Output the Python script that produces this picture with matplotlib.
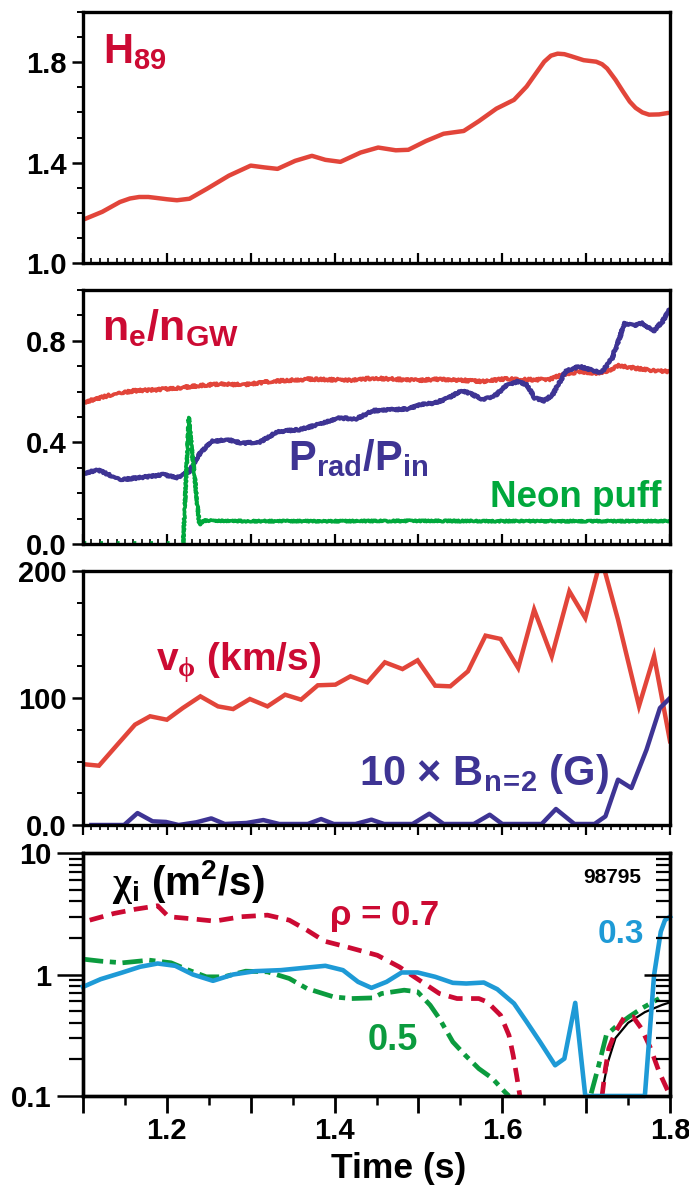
import numpy as np
import matplotlib
matplotlib.use("Agg")
import matplotlib.pyplot as plt
from matplotlib import font_manager
from matplotlib.ticker import MultipleLocator, FixedLocator, FixedFormatter, LogLocator, NullFormatter

# ---------------- data ----------------
t_h89 = [1.102, 1.123, 1.144, 1.156, 1.167, 1.178, 1.188, 1.200, 1.212, 1.227, 1.248, 1.274, 1.300,
         1.316, 1.332, 1.353, 1.373, 1.389, 1.407, 1.431, 1.452, 1.473, 1.488, 1.509, 1.530,
         1.554, 1.572, 1.593, 1.614, 1.629, 1.640, 1.650, 1.658, 1.666, 1.674, 1.682, 1.697,
         1.712, 1.719, 1.725, 1.735, 1.744, 1.752, 1.759, 1.767, 1.775, 1.787, 1.798]
h89 = [1.175, 1.204, 1.243, 1.257, 1.263, 1.263, 1.259, 1.254, 1.250, 1.256, 1.296, 1.348, 1.388,
       1.381, 1.375, 1.407, 1.427, 1.411, 1.403, 1.440, 1.460, 1.449, 1.451, 1.486, 1.515,
       1.526, 1.565, 1.615, 1.650, 1.703, 1.755, 1.802, 1.826, 1.834, 1.832, 1.824, 1.808,
       1.802, 1.792, 1.775, 1.730, 1.683, 1.643, 1.618, 1.600, 1.591, 1.592, 1.598]

t_ne = [1.102, 1.134, 1.160, 1.186, 1.212, 1.238, 1.264, 1.290, 1.316, 1.342, 1.368, 1.394,
        1.420, 1.446, 1.472, 1.499, 1.525, 1.551, 1.577, 1.603, 1.629, 1.655, 1.671, 1.692,
        1.712, 1.723, 1.739, 1.759, 1.780, 1.800]
ne_ngw = [0.559, 0.588, 0.603, 0.607, 0.614, 0.623, 0.630, 0.627, 0.637, 0.644, 0.649, 0.647,
          0.645, 0.653, 0.649, 0.644, 0.649, 0.645, 0.640, 0.650, 0.647, 0.647, 0.666, 0.679,
          0.673, 0.677, 0.703, 0.692, 0.682, 0.679]

t_prad = [1.102, 1.118, 1.144, 1.170, 1.196, 1.212, 1.227, 1.238, 1.253, 1.274, 1.290, 1.311,
          1.332, 1.358, 1.379, 1.405, 1.426, 1.446, 1.472, 1.488, 1.504, 1.519, 1.535, 1.551,
          1.561, 1.577, 1.593, 1.603, 1.618, 1.629, 1.639, 1.650, 1.660, 1.676, 1.692, 1.705,
          1.718, 1.731, 1.746, 1.757, 1.767, 1.780, 1.791, 1.800]
prad_pin = [0.279, 0.292, 0.253, 0.262, 0.273, 0.262, 0.286, 0.351, 0.404, 0.410, 0.397, 0.401,
            0.443, 0.450, 0.469, 0.496, 0.493, 0.525, 0.529, 0.532, 0.551, 0.555, 0.574, 0.603,
            0.594, 0.568, 0.588, 0.620, 0.640, 0.627, 0.574, 0.564, 0.588, 0.682, 0.699, 0.686,
            0.673, 0.732, 0.870, 0.860, 0.870, 0.837, 0.876, 0.926]

t_neon = [1.2194, 1.2262, 1.2387, 1.244, 1.30, 1.40, 1.50, 1.60, 1.70, 1.80]
neon = [0.0, 0.498, 0.076, 0.092, 0.090, 0.090, 0.091, 0.090, 0.090, 0.090]
t_neon_pre = [1.10, 1.2194]
neon_pre = [0.006, 0.006]

t_vphi = [1.102, 1.119, 1.141, 1.162, 1.180, 1.200, 1.219, 1.240, 1.261, 1.279, 1.299, 1.320,
          1.341, 1.360, 1.380, 1.401, 1.419, 1.439, 1.460, 1.481, 1.499, 1.520, 1.538, 1.559,
          1.580, 1.598, 1.619, 1.638, 1.659, 1.680, 1.699, 1.714, 1.722, 1.738, 1.763, 1.781, 1.800]
vphi = [47.8, 46.7, 63.3, 79.0, 85.6, 82.9, 92.1, 101.3, 93.4, 91.3, 99.2, 93.4,
        102.6, 98.7, 110.0, 110.5, 117.1, 112.3, 128.1, 122.8, 129.7, 109.7, 109.2, 121.0,
        149.1, 146.5, 123.6, 169.6, 132.8, 184.0, 163.0, 200.5, 200.5, 161.7, 93.6, 133.0, 66.0]

t_bn2 = [1.110, 1.149, 1.165, 1.183, 1.199, 1.214, 1.235, 1.253, 1.269, 1.295, 1.315, 1.334,
         1.368, 1.384, 1.399, 1.425, 1.444, 1.459, 1.493, 1.513, 1.530, 1.566, 1.585, 1.600,
         1.647, 1.664, 1.686, 1.710, 1.723, 1.738, 1.754, 1.772, 1.788, 1.800]
bn2 = [0.0, 0.0, 9.4, 2.9, 2.4, 0.0, 2.1, 5.2, 0.8, 1.6, 3.9, 0.8,
       0.8, 4.7, 0.8, 0.8, 4.2, 0.8, 0.8, 8.9, 0.8, 0.8, 8.1, 0.8,
       0.8, 12.6, 0.8, 0.8, 6.8, 35.7, 29.1, 59.3, 92.1, 100.0]

t_chi3 = [1.100, 1.121, 1.147, 1.168, 1.189, 1.210, 1.231, 1.255, 1.279, 1.305, 1.336, 1.368,
          1.389, 1.410, 1.428, 1.444, 1.462, 1.480, 1.499, 1.520, 1.541, 1.557, 1.578, 1.594,
          1.614, 1.629, 1.645, 1.663, 1.674, 1.681, 1.687, 1.692, 1.699, 1.713, 1.770, 1.781,
          1.789, 1.794, 1.800]
chi3 = [0.791, 0.915, 1.039, 1.157, 1.232, 1.179, 1.0, 0.887, 1.0, 1.065, 1.086, 1.142,
        1.179, 1.086, 0.870, 0.776, 0.870, 1.039, 1.039, 0.957, 0.854, 0.843, 0.859, 0.757,
        0.577, 0.408, 0.279, 0.179, 0.203, 0.359, 0.584, 0.279, 0.100, 0.100, 0.100, 0.988,
        2.25, 2.80, 2.99]

t_chi7a = [1.108, 1.137, 1.163, 1.189, 1.202, 1.226, 1.257, 1.289, 1.320, 1.346, 1.367, 1.388,
           1.414, 1.451, 1.477, 1.498, 1.525, 1.546, 1.572, 1.582, 1.598, 1.608, 1.613, 1.617, 1.621]
chi7a = [2.80, 3.18, 3.45, 3.68, 2.99, 2.89, 2.75, 2.99, 3.08, 2.80, 2.32, 1.88,
         1.69, 1.44, 1.157, 0.927, 0.697, 0.634, 0.634, 0.595, 0.462, 0.316, 0.216, 0.149, 0.100]
t_chi7b = [1.719, 1.723, 1.727, 1.735, 1.745, 1.756, 1.766, 1.777, 1.787, 1.798]
chi7b = [0.100, 0.168, 0.246, 0.337, 0.439, 0.448, 0.359, 0.246, 0.158, 0.108]

t_chi5a = [1.100, 1.121, 1.147, 1.179, 1.205, 1.226, 1.247, 1.268, 1.294, 1.320, 1.346, 1.367,
           1.399, 1.420, 1.446, 1.456, 1.483, 1.499, 1.514, 1.525, 1.541, 1.556, 1.572, 1.588,
           1.603, 1.608]
chi5a = [1.338, 1.288, 1.248, 1.312, 1.248, 1.086, 0.957, 0.957, 1.065, 1.052, 0.927, 0.767,
         0.654, 0.634, 0.642, 0.697, 0.743, 0.720, 0.559, 0.434, 0.279, 0.216, 0.168, 0.140,
         0.108, 0.100]
t_chi5b = [1.706, 1.714, 1.724, 1.735, 1.751, 1.766, 1.787]
chi5b = [0.105, 0.168, 0.316, 0.370, 0.448, 0.525, 0.634]

t_blk = [1.718, 1.726, 1.735, 1.750, 1.770, 1.790, 1.800]
blk = [0.100, 0.190, 0.300, 0.400, 0.490, 0.560, 0.590]

# ---------------- style ----------------
names = {f.name for f in font_manager.fontManager.ttflist}
FAM = 'Liberation Sans Narrow' if 'Liberation Sans Narrow' in names else 'Liberation Sans'
plt.rcParams['font.family'] = [FAM, 'DejaVu Sans']
plt.rcParams['font.weight'] = 'bold'
plt.rcParams['mathtext.fontset'] = 'custom'
plt.rcParams['mathtext.rm'] = 'Liberation Serif'
plt.rcParams['mathtext.default'] = 'regular'

RED = '#e2453a'
CRIMSON = '#cc0a33'
PURPLE = '#3e3494'
GREEN = '#00a83c'
GREEN2 = '#0b9b3e'
BLUE = '#1e9ad6'

W, H = 689, 1186
fig = plt.figure(figsize=(W / 100, H / 100), dpi=100)

left = 83 / W
width = (670 - 83) / W
def pos(top, bot):
    return [left, 1 - bot / H, width, (bot - top) / H]

ax1 = fig.add_axes(pos(12, 263))
ax2 = fig.add_axes(pos(290, 544))
ax3 = fig.add_axes(pos(571, 825))
ax4 = fig.add_axes(pos(853, 1096))

TICKFS = 21
SPW = 2.4
for ax in (ax1, ax2, ax3, ax4):
    ax.set_xlim(1.1, 1.8)
    for s in ax.spines.values():
        s.set_linewidth(SPW)
    ax.set_facecolor('white')

def style_lin(ax, majors, labels, minor, xdir):
    ax.yaxis.set_major_locator(FixedLocator(majors))
    ax.yaxis.set_major_formatter(FixedFormatter(labels))
    ax.yaxis.set_minor_locator(MultipleLocator(minor))
    ax.tick_params(axis='y', which='major', direction='out', length=8, width=1.8,
                   labelsize=TICKFS, pad=4, right=False)
    ax.tick_params(axis='y', which='minor', direction='out', length=4.5, width=1.4, right=False)
    ax.xaxis.set_major_locator(MultipleLocator(0.1))
    ax.xaxis.set_minor_locator(MultipleLocator(0.01))
    ax.tick_params(axis='x', which='major', direction=xdir, length=7, width=1.6,
                   labelbottom=False, top=False)
    ax.tick_params(axis='x', which='minor', direction=xdir, length=3.5, width=1.2, top=False)

# ---- panel 1 ----
ax1.plot(t_h89, h89, color=RED, lw=3.2, solid_capstyle='round', solid_joinstyle='round')
ax1.set_ylim(1.0, 2.0)
style_lin(ax1, [1.0, 1.4, 1.8], ['1.0', '1.4', '1.8'], 0.1, 'in')
ax1.text(0.034, 0.797, 'H$_{89}$', transform=ax1.transAxes, color=CRIMSON, fontsize=30,
         fontweight='bold', va='baseline', ha='left')

# ---- panel 2 ----
l_ne, = ax2.plot(t_ne, ne_ngw, color=RED, lw=2.6)
l_ne.set_sketch_params(scale=1.3, length=2.0, randomness=2.0)
l_pr, = ax2.plot(t_prad, prad_pin, color=PURPLE, lw=3.0)
l_pr.set_sketch_params(scale=1.0, length=2.0, randomness=2.0)
l_nn, = ax2.plot(t_neon, neon, color=GREEN, lw=2.6)
l_nn.set_sketch_params(scale=0.8, length=2.0, randomness=2.0)
ax2.plot(t_neon_pre, neon_pre, color=GREEN, lw=2.0, linestyle=(0, (1, 5)))
ax2.set_ylim(0.0, 1.0)
style_lin(ax2, [0.0, 0.4, 0.8], ['0.0', '0.4', '0.8'], 0.1, 'in')
ax2.text(0.032, 0.803, 'n$_{e}$/n$_{GW}$', transform=ax2.transAxes, color=CRIMSON, fontsize=31,
         fontweight='bold', va='baseline', ha='left')
ax2.text(0.349, 0.291, 'P$_{rad}$/P$_{in}$', transform=ax2.transAxes, color=PURPLE, fontsize=30,
         fontweight='bold', va='baseline', ha='left')
ax2.text(0.693, 0.146, 'Neon puff', transform=ax2.transAxes, color=GREEN, fontsize=26.5,
         fontweight='bold', va='baseline', ha='left')

# ---- panel 3 ----
ax3.plot(t_vphi, vphi, color=RED, lw=3.2, solid_joinstyle='miter')
ax3.plot(t_bn2, bn2, color=PURPLE, lw=3.2, solid_joinstyle='round')
ax3.set_ylim(0, 200)
style_lin(ax3, [0, 100, 200], ['0.0', '100', '200'], 25, 'out')
ax3.text(0.124, 0.610, r'v$_{\mathrm{\phi}}$ (km/s)', transform=ax3.transAxes, color=CRIMSON,
         fontsize=28, fontweight='bold', va='baseline', ha='left')
ax3.text(0.470, 0.157, '10 \u00d7 B$_{n\\!=\\!2}$ (G)', transform=ax3.transAxes, color=PURPLE,
         fontsize=30, fontweight='bold', va='baseline', ha='left')

# ---- panel 4 ----
ax4.set_yscale('log')
ax4.set_ylim(0.1, 10)
ax4.plot(t_blk, blk, color='black', lw=1.6, zorder=3)
ax4.plot(t_chi5a, chi5a, color=GREEN2, lw=3.4, dashes=(4.3, 1.4, 1.3, 1.4), dash_capstyle='butt', zorder=4)
ax4.plot(t_chi5b, chi5b, color=GREEN2, lw=3.4, dashes=(4.3, 1.4, 1.3, 1.4), dash_capstyle='butt', zorder=4)
ax4.plot(t_chi7a, chi7a, color=CRIMSON, lw=3.4, dashes=(3.0, 1.8), dash_capstyle='butt', zorder=5)
ax4.plot(t_chi7b, chi7b, color=CRIMSON, lw=3.4, dashes=(3.0, 1.8), dash_capstyle='butt', zorder=5)
ax4.plot(t_chi3, chi3, color=BLUE, lw=3.3, clip_on=False, zorder=6, solid_joinstyle='round')

ax4.yaxis.set_major_locator(FixedLocator([0.1, 1, 10]))
ax4.yaxis.set_major_formatter(FixedFormatter(['0.1', '1', '10']))
ax4.yaxis.set_minor_locator(LogLocator(base=10, subs=np.arange(2, 10)))
ax4.yaxis.set_minor_formatter(NullFormatter())
ax4.tick_params(axis='y', which='major', direction='out', length=19, width=1.8,
                labelsize=TICKFS, pad=4, right=False)
ax4.tick_params(axis='y', which='minor', direction='out', length=10, width=1.6, right=False)
ax4.xaxis.set_major_locator(FixedLocator([1.1, 1.2, 1.3, 1.4, 1.5, 1.6, 1.7, 1.8]))
ax4.xaxis.set_major_formatter(FixedFormatter(['', '1.2', '', '1.4', '', '1.6', '', '1.8']))
ax4.xaxis.set_minor_locator(MultipleLocator(0.05))
ax4.tick_params(axis='x', which='major', direction='out', length=12, width=2.0,
                labelsize=TICKFS, pad=3, top=False)
ax4.tick_params(axis='x', which='minor', direction='out', length=6.5, width=1.8, top=False)

ax4r = ax4.twinx()
ax4r.set_yscale('log')
ax4r.set_ylim(0.1, 10)
ax4r.yaxis.set_major_locator(FixedLocator([1]))
ax4r.yaxis.set_minor_locator(LogLocator(base=10, subs=np.arange(2, 10)))
ax4r.yaxis.set_major_formatter(NullFormatter())
ax4r.yaxis.set_minor_formatter(NullFormatter())
ax4r.tick_params(axis='y', which='major', direction='in', length=19, width=1.8, labelright=False)
ax4r.tick_params(axis='y', which='minor', direction='in', length=10, width=1.6)
for s in ax4r.spines.values():
    s.set_linewidth(SPW)

ax4.text(0.049, 0.827, r'$\mathrm{\chi}_{i}$ (m$^{2}$/s)', transform=ax4.transAxes, color='black',
         fontsize=29, fontweight='bold', va='baseline', ha='left')
ax4.text(0.951, 0.877, '98795', transform=ax4.transAxes, color='black', fontsize=15,
         fontweight='bold', va='baseline', ha='right')
ax4.text(0.421, 0.704, '\u03c1 = 0.7', transform=ax4.transAxes, color=CRIMSON, fontsize=25,
         fontweight='bold', va='baseline', ha='left')
ax4.text(0.876, 0.630, '0.3', transform=ax4.transAxes, color=BLUE, fontsize=24,
         fontweight='bold', va='baseline', ha='left')
ax4.text(0.485, 0.189, '0.5', transform=ax4.transAxes, color=GREEN2, fontsize=26,
         fontweight='bold', va='baseline', ha='left')

fig.text(399 / W, 1 - 1178 / H, 'Time (s)', fontsize=25.5, fontweight='bold', ha='center',
         va='baseline', color='black')

fig.savefig('out.png', dpi=100, facecolor='white')
